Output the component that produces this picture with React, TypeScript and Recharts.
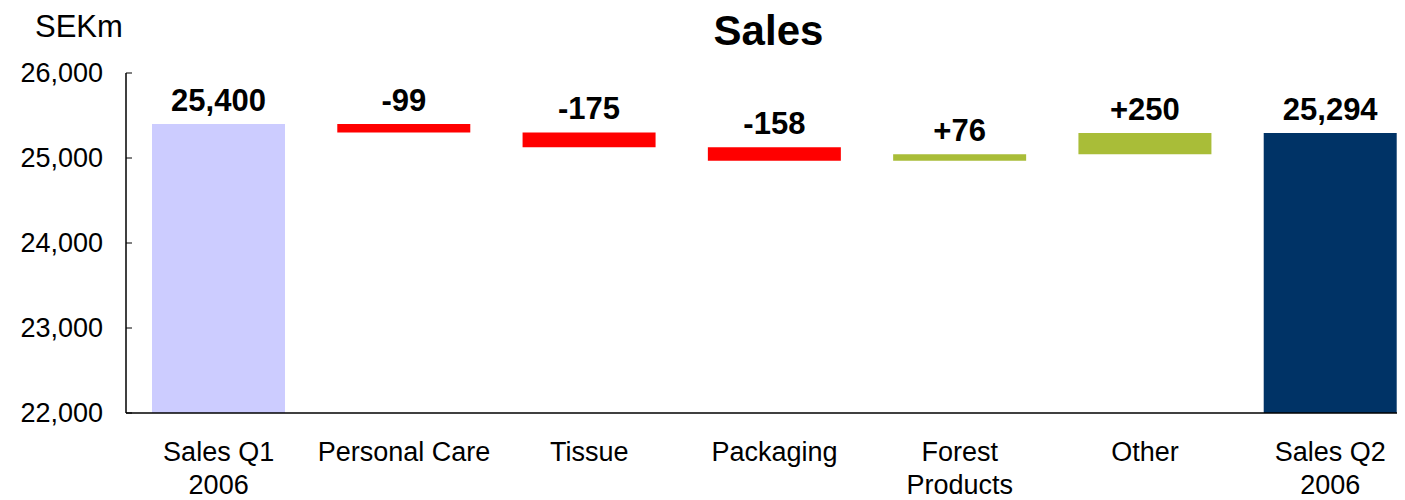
import React from "react";
import { BarChart, Bar, XAxis, YAxis, Cell, LabelList } from "recharts";

const categories = ["Sales Q1\n2006", "Personal Care", "Tissue", "Packaging", "Forest\nProducts", "Other", "Sales Q2\n2006"];
const startTotal = 25400;
const deltas = [-99, -175, -158, 76, 250];
const endTotal = 25294;
const yTicks = [22000, 23000, 24000, 25000, 26000];
const AXIS_MIN = 22000;
const AXIS_MAX = 26000;

const COLORS = { start: "#ccccff", neg: "#ff0000", pos: "#a9bd38", end: "#003366" };
const FONT = "'Liberation Sans', Arial, Helvetica, sans-serif";

const fmt = (v: number) => v.toLocaleString("en-US");

type Row = { name: string; range: [number, number]; label: string; color: string };

const data: Row[] = (() => {
  const rows: Row[] = [];
  rows.push({ name: categories[0], range: [AXIS_MIN, startTotal], label: fmt(startTotal), color: COLORS.start });
  let cur = startTotal;
  deltas.forEach((d, i) => {
    const next = cur + d;
    rows.push({
      name: categories[i + 1],
      range: [Math.min(cur, next), Math.max(cur, next)],
      label: (d > 0 ? "+" : "") + d,
      color: d < 0 ? COLORS.neg : COLORS.pos,
    });
    cur = next;
  });
  rows.push({ name: categories[6], range: [AXIS_MIN, endTotal], label: fmt(endTotal), color: COLORS.end });
  return rows;
})();

const YTick = (props: any) => {
  const { x, y, payload } = props;
  return (
    <g>
      <line x1={x} y1={y} x2={x + 6} y2={y} stroke="#000" strokeWidth={1} />
      <text x={x - 23} y={y} dy={9} textAnchor="end" fontFamily={FONT} fontSize={27} fill="#000">
        {fmt(payload.value)}
      </text>
    </g>
  );
};

const XTick = (props: any) => {
  const { x, y, payload } = props;
  const lines = String(payload.value).split("\n");
  return (
    <g>
      {lines.map((l, i) => (
        <text key={i} x={x} y={y + 40 + i * 33} textAnchor="middle" fontFamily={FONT} fontSize={27} fill="#000">
          {l}
        </text>
      ))}
    </g>
  );
};

const TopLabel = (props: any) => {
  const { x, y, width, value } = props;
  return (
    <text x={x + width / 2} y={y - 13} textAnchor="middle" fontFamily={FONT} fontSize={31} fontWeight="bold" fill="#000">
      {value}
    </text>
  );
};

export default function App() {
  return (
    <div style={{ position: "relative", width: 1397, height: 492, overflow: "hidden", background: "#fff" }}>
      <BarChart width={1430} height={492} data={data} margin={{ top: 65, right: 15, left: 0, bottom: 0 }} barSize={133}>
        <XAxis
          dataKey="name"
          height={87}
          axisLine={{ stroke: "#000", strokeWidth: 1.5 }}
          tickLine={false}
          tick={<XTick />}
          interval={0}
        />
        <YAxis
          width={118}
          domain={[AXIS_MIN, AXIS_MAX]}
          ticks={yTicks}
          allowDataOverflow
          axisLine={{ stroke: "#000", strokeWidth: 1.5 }}
          tickLine={false}
          tickSize={0}
          tickMargin={0}
          tick={<YTick />}
        />
        <Bar dataKey="range" isAnimationActive={false}>
          {data.map((d, i) => (
            <Cell key={i} fill={d.color} />
          ))}
          <LabelList dataKey="label" content={<TopLabel />} />
        </Bar>
      </BarChart>
      <svg width={1397} height={492} style={{ position: "absolute", left: 0, top: 0, pointerEvents: "none" }}>
        <text x={760.5} y={37} textAnchor="middle" fontFamily={FONT} fontSize={42} fontWeight="bold" fill="#000">
          Sales
        </text>
        <text x={27} y={29} textAnchor="start" fontFamily={FONT} fontSize={31} fill="#000">
          SEKm
        </text>
      </svg>
    </div>
  );
}
